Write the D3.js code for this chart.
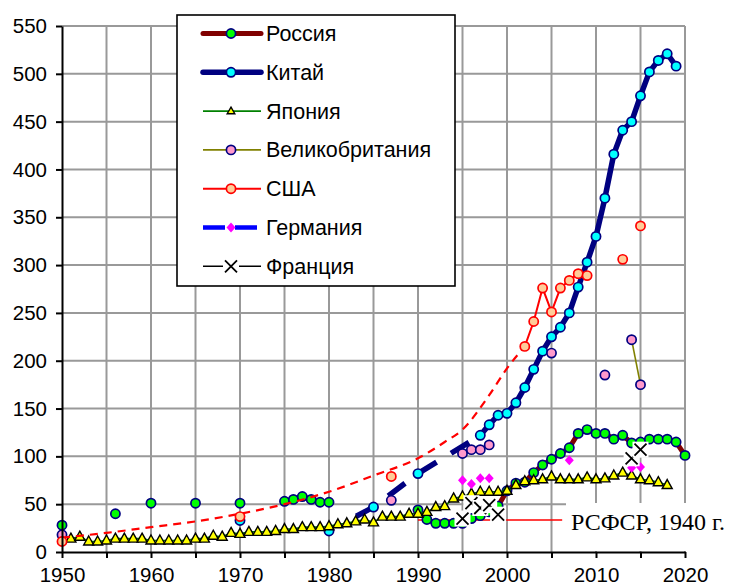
<!DOCTYPE html>
<html><head><meta charset="utf-8">
<script src="https://cdn.jsdelivr.net/npm/d3@7"></script>
<style>body{margin:0;background:#fff}svg{display:block}</style>
</head><body>
<svg id="c" width="729" height="588"></svg>
<script>
// ---------- data ----------
const seriesNames = ["Россия","Китай","Япония","Великобритания","США","Германия","Франция"];
const xTickValues = [1950,1955,1960,1965,1970,1975,1980,1985,1990,1995,2000,2005,2010,2015,2020];
const yTickValues = [0,50,100,150,200,250,300,350,400,450,500,550];

const russiaYears  = [1950,1956,1960,1965,1970,1975,1976,1977,1978,1979,1980,1990,1991,1992,1993,1994,1995,1996,1997,1998,1999,2000,2001,2002,2003,2004,2005,2006,2007,2008,2009,2010,2011,2012,2013,2014,2015,2016,2017,2018,2019,2020];
const russiaValues = [28,40,51,51,51,53,55,58,55,52,52,44,34,30,30,30,30,35,38,42,48,64,72,73,83,91,97,103,109,124,128,124,124,118,122,114,115,118,118,118,115,101];

const chinaYears  = [1970,1980,1985,1990,1997,1998,1999,2000,2001,2002,2003,2004,2005,2006,2007,2008,2009,2010,2011,2012,2013,2014,2015,2016,2017,2018,2019];
const chinaValues = [33,22,47,82,122,133,143,145,156,172,191,210,225,235,250,277,303,330,370,416,441,450,477,502,514,521,508];

const japanYears  = [1951,1952,1953,1954,1955,1956,1957,1958,1959,1960,1961,1962,1963,1964,1965,1966,1967,1968,1969,1970,1971,1972,1973,1974,1975,1976,1977,1978,1979,1980,1981,1982,1983,1984,1985,1986,1987,1988,1989,1990,1991,1992,1993,1994,1995,1996,1997,1998,1999,2000,2001,2002,2003,2004,2005,2006,2007,2008,2009,2010,2011,2012,2013,2014,2015,2016,2017,2018];
const japanValues = [14,16,11,11,12,14,14,14,14,12,12,12,12,12,14,14,17,16,20,19,21,21,21,22,24,24,26,26,26,27,29,30,32,34,31,37,37,37,40,40,42,47,48,56,58,61,63,63,63,64,70,74,75,76,79,76,76,76,78,76,77,80,83,80,76,75,73,70];

const ukYears  = [1950,1987,1995,1996,1997,1998,2005,2011,2014,2015];
const ukValues = [18,54,103,107,107,112,208,185,222,175];

const usaYears  = [1950,1970,1987,2002,2003,2004,2005,2006,2007,2008,2009,2013,2015];
const usaValues = [11,37,79,215,241,276,251,276,284,291,289,306,341];

const usaTrendYears  = [1950,1955,1960,1965,1970,1975,1980,1985,1990,1993,1995,1998,2000,2002];
const usaTrendValues = [15,20,26,32,40,50,63,80,98,115,128,164,192,215];

const germanyYears  = [1995,1996,1997,1998,2007,2014,2015];
const germanyValues = [75,71,77,77,96,88,89];

const franceYears  = [1995,1996,1997,1998,1999,2014,2015];
const franceValues = [35,51,46,49,39,98,107];

const rsfsrYears = [1990,2006.2];
const rsfsrValue = 33.5;
const rsfsrLabel = "РСФСР, 1940 г.";

// ---------- setup ----------
const svg = d3.select("#c");
const x = d3.scaleLinear().domain([1950,2020]).range([62,685]);
const y = d3.scaleLinear().domain([0,550]).range([552,26]);
const line = d3.line().x(d=>x(d[0])).y(d=>y(d[1]));
const FONT = "'Liberation Sans', Arial, sans-serif";

function pairs(ys, vs){ return ys.map((yr,i)=>[yr,vs[i]]); }
function runs(ys, vs){
  const out=[]; let cur=[];
  ys.forEach((yr,i)=>{
    if(cur.length && yr-ys[i-1]!==1){ if(cur.length>1) out.push(cur); cur=[]; }
    cur.push([yr,vs[i]]);
  });
  if(cur.length>1) out.push(cur);
  return out;
}

// ---------- grid ----------
const grid = svg.append("g");
grid.selectAll("line.gv").data(xTickValues.filter(d=>d>1950)).join("line").attr("class","gv")
  .attr("x1",d=>x(d)).attr("x2",d=>x(d)).attr("y1",y(0)).attr("y2",y(550))
  .attr("stroke","#999").attr("stroke-width",2);
grid.selectAll("line.gh").data(yTickValues.filter(d=>d>0)).join("line").attr("class","gh")
  .attr("x1",x(1950)).attr("x2",x(2020)).attr("y1",d=>y(d)).attr("y2",d=>y(d))
  .attr("stroke","#999").attr("stroke-width",2);

// annotation box & line
svg.append("rect").attr("x",566).attr("y",503).attr("width",163).attr("height",48).attr("fill","#fff");
svg.append("line").attr("x1",x(rsfsrYears[0])).attr("x2",x(rsfsrYears[1]))
  .attr("y1",y(rsfsrValue)).attr("y2",y(rsfsrValue)).attr("stroke","#ff0000").attr("stroke-width",1.5);
svg.append("text").attr("x",571).attr("y",530).text(rsfsrLabel)
  .attr("font-family","'Liberation Serif', 'Times New Roman', serif").attr("font-size",24).attr("fill","#000");

// ---------- marker helpers ----------
function circles(g, data, fill, stroke){
  g.selectAll("circle.m").data(data).join("circle").attr("class","m")
    .attr("cx",d=>x(d[0])).attr("cy",d=>y(d[1])).attr("r",4.6)
    .attr("fill",fill).attr("stroke",stroke).attr("stroke-width",1.7);
}
const triPath = "M0,-5.5L5,3.5L-5,3.5Z";
const diaPath = "M0,-5L4.5,0L0,5L-4.5,0Z";
function drawX(g, cx, cy){
  g.append("rect").attr("x",cx-8).attr("y",cy-8).attr("width",16).attr("height",16).attr("fill","#fff");
  g.append("path").attr("d",`M${cx-6},${cy-6}L${cx+6},${cy+6}M${cx+6},${cy-6}L${cx-6},${cy+6}`)
    .attr("stroke","#000").attr("stroke-width",1.8).attr("fill","none");
}

// ---------- Russia ----------
const gR = svg.append("g");
runs(russiaYears,russiaValues).forEach(r=>gR.append("path").attr("d",line(r)).attr("fill","none").attr("stroke","#800000").attr("stroke-width",5));
circles(gR, pairs(russiaYears,russiaValues), "#00ff00", "#000080");

// ---------- China ----------
const gC = svg.append("g");
const chinaPairs = pairs(chinaYears,chinaValues);
gC.append("path").attr("d",line(chinaPairs.filter(d=>d[0]>=1980 && d[0]<=1997)))
  .attr("fill","none").attr("stroke","#000080").attr("stroke-width",5.5)
  .attr("stroke-dasharray","0 31 21 17 21 17 21 17 21 17 21 17 21 17");
runs(chinaYears,chinaValues).forEach(r=>gC.append("path").attr("d",line(r)).attr("fill","none").attr("stroke","#000080").attr("stroke-width",5.5).attr("stroke-linejoin","round"));
circles(gC, chinaPairs, "#00ffff", "#000080");

// ---------- Japan ----------
const gJ = svg.append("g");
runs(japanYears,japanValues).forEach(r=>gJ.append("path").attr("d",line(r)).attr("fill","none").attr("stroke","#008000").attr("stroke-width",1.6));
gJ.selectAll("path.t").data(pairs(japanYears,japanValues)).join("path").attr("class","t")
  .attr("d",triPath).attr("transform",d=>`translate(${x(d[0])},${y(d[1])})`)
  .attr("fill","#ffff00").attr("stroke","#000").attr("stroke-width",1.4);

// ---------- UK ----------
const gU = svg.append("g");
runs(ukYears,ukValues).forEach(r=>gU.append("path").attr("d",line(r)).attr("fill","none").attr("stroke","#808000").attr("stroke-width",1.6));
circles(gU, pairs(ukYears,ukValues), "#ff99cc", "#000080");

// ---------- USA ----------
const gS = svg.append("g");
gS.append("path").attr("d",d3.line().x(d=>x(d[0])).y(d=>y(d[1])).curve(d3.curveMonotoneX)(pairs(usaTrendYears,usaTrendValues)))
  .attr("fill","none").attr("stroke","#ff0000").attr("stroke-width",2.2).attr("stroke-dasharray","8,6");
runs(usaYears,usaValues).forEach(r=>gS.append("path").attr("d",line(r)).attr("fill","none").attr("stroke","#ff0000").attr("stroke-width",2));
circles(gS, pairs(usaYears,usaValues), "#ffcc99", "#ff0000");

// ---------- Germany ----------
const gG = svg.append("g");
gG.selectAll("path.d").data(pairs(germanyYears,germanyValues)).join("path").attr("class","d")
  .attr("d",diaPath).attr("transform",d=>`translate(${x(d[0])},${y(d[1])})`).attr("fill","#ff00ff");

// ---------- France ----------
const gF = svg.append("g");
runs(franceYears,franceValues).forEach(r=>gF.append("path").attr("d",line(r)).attr("fill","none").attr("stroke","#000").attr("stroke-width",1.5));
pairs(franceYears,franceValues).forEach(d=>drawX(gF, x(d[0]), y(d[1])));

// ---------- axes ----------
const xAxis = svg.append("g").attr("transform",`translate(0,${y(0)})`)
  .call(d3.axisBottom(x).tickValues(xTickValues).tickFormat(d=>d%10===0?String(d):"").tickSize(6).tickSizeOuter(0).tickPadding(9));
const yAxis = svg.append("g").attr("transform",`translate(${x(1950)},0)`)
  .call(d3.axisLeft(y).tickValues(yTickValues).tickSize(6).tickSizeOuter(0).tickPadding(9));
[xAxis,yAxis].forEach(a=>{
  a.select(".domain").attr("stroke","#000").attr("stroke-width",2);
  a.selectAll(".tick line").attr("stroke","#000").attr("stroke-width",2);
  a.selectAll(".tick text").attr("font-family",FONT).attr("font-size",20.5).attr("fill","#000");
});

// ---------- legend ----------
const lg = svg.append("g");
lg.append("rect").attr("x",177).attr("y",15).attr("width",278).attr("height",271)
  .attr("fill","#fff").attr("stroke","#000").attr("stroke-width",1.6);
const legStyles = [
  {stroke:"#800000", w:5, marker:"circle", fill:"#00ff00", mstroke:"#000080"},
  {stroke:"#000080", w:5.5, marker:"circle", fill:"#00ffff", mstroke:"#000080"},
  {stroke:"#008000", w:1.6, marker:"tri"},
  {stroke:"#808000", w:1.6, marker:"circle", fill:"#ff99cc", mstroke:"#000080"},
  {stroke:"#ff0000", w:2, marker:"circle", fill:"#ffcc99", mstroke:"#ff0000"},
  {stroke:"#0000ff", w:4.5, marker:"dia", dash:"22,10"},
  {stroke:"#000", w:1.5, marker:"x"}
];
seriesNames.forEach((name,i)=>{
  const cy = 33.5 + i*38.8;
  const s = legStyles[i];
  const g = lg.append("g");
  const ln = g.append("line").attr("x1",203).attr("x2",261).attr("y1",cy).attr("y2",cy)
    .attr("stroke",s.stroke).attr("stroke-width",s.w).attr("stroke-linecap", s.w>4 && !s.dash ? "round":"butt");
  if(s.dash) ln.attr("stroke-dasharray",s.dash);
  const mx = 231;
  if(s.marker==="circle") g.append("circle").attr("cx",mx).attr("cy",cy).attr("r",4.6).attr("fill",s.fill).attr("stroke",s.mstroke).attr("stroke-width",1.7);
  if(s.marker==="tri") g.append("path").attr("d","M0,-4L3.8,2.6L-3.8,2.6Z").attr("transform",`translate(${mx},${cy})`).attr("fill","#ffff00").attr("stroke","#000").attr("stroke-width",1.4);
  if(s.marker==="dia") g.append("path").attr("d",diaPath).attr("transform",`translate(${mx},${cy})`).attr("fill","#ff00ff");
  if(s.marker==="x") drawX(g, mx, cy);
  g.append("text").attr("x",266).attr("y",cy).attr("dy","0.35em").text(name)
    .attr("font-family",FONT).attr("font-size",21.5).attr("fill","#000");
});
</script>
</body></html>
